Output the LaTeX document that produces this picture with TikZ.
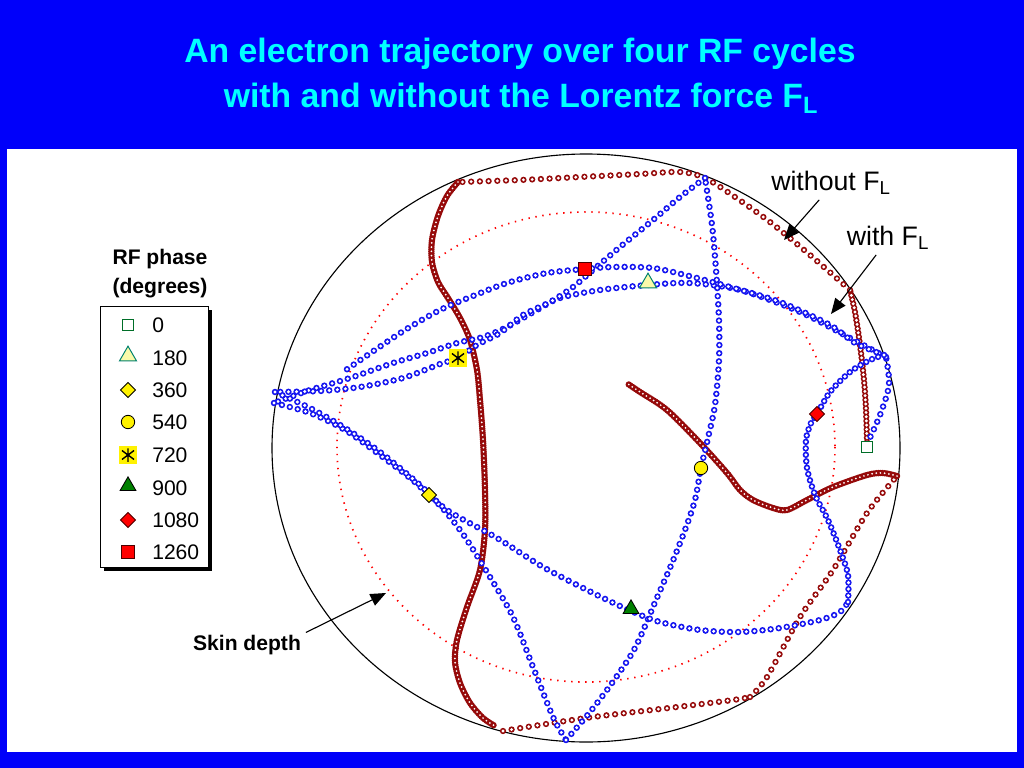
\documentclass[tikz,border=0pt]{standalone}
\usepackage{fontspec}
\setmainfont{Liberation Sans}
\usepackage{xcolor}
\usepackage{tikz}
\usetikzlibrary{shapes.geometric}
\usetikzlibrary{arrows.meta,positioning}

\definecolor{slideblue}{RGB}{0,0,250}
\definecolor{titlecyan}{RGB}{0,255,255}
\definecolor{orbitblue}{RGB}{20,20,240}
\definecolor{orbitred}{RGB}{150,10,10}
\definecolor{keygreen}{RGB}{0,110,40}
\definecolor{keyteal}{RGB}{0,130,110}
\definecolor{paleyellow}{RGB}{250,250,170}

\tikzset{
    blueorbit/.style={
        draw=orbitblue,
        line width=4.6pt,
        line cap=round,
        dash pattern=on 0pt off #1,
        postaction={draw=white, line width=2.4pt, line cap=round, dash pattern=on 0pt off #1}
    },
    blueorbit/.default=5.8pt,
    redorbit/.style={
        draw=orbitred,
        line width=4.5pt,
        line cap=round,
        dash pattern=on 0pt off #1,
        postaction={draw=white, line width=2.3pt, line cap=round, dash pattern=on 0pt off #1}
    },
    redorbit/.default=6.2pt,
    denseorbit/.style={
        draw=orbitred,
        line width=4.6pt,
        line cap=round,
        dash pattern=on 0pt off 1.5pt,
        postaction={draw=white, line width=1.4pt, line cap=round, dash pattern=on 0pt off 3pt}
    },
    pointer/.style={
        -{Triangle[length=11pt,width=9pt]},
        line width=0.8pt
    },
    mkzero/.style={rectangle, draw=keygreen, fill=white, line width=0.6pt,
        minimum size=7.5pt, inner sep=0pt},
    mkhalf/.style={regular polygon, regular polygon sides=3, draw=keyteal,
        fill=paleyellow, line width=0.7pt, minimum size=14pt, inner sep=0pt},
    mkone/.style={diamond, draw=black, fill=yellow, line width=0.6pt,
        minimum size=11pt, inner sep=0pt},
    mkonehalf/.style={circle, draw=black, fill=yellow, line width=0.6pt,
        minimum size=9.5pt, inner sep=0pt},
    mktwo/.style={rectangle, fill=yellow, minimum size=12.5pt, inner sep=0pt,
        path picture={
            \draw[line width=1pt]
                ([yshift=-4.8pt]path picture bounding box.center) -- ++(0,9.6pt)
                ([shift={(-4.3pt,-3.2pt)}]path picture bounding box.center) -- ++(8.6pt,6.4pt)
                ([shift={(-4.3pt,3.2pt)}]path picture bounding box.center) -- ++(8.6pt,-6.4pt);}},
    mktwohalf/.style={regular polygon, regular polygon sides=3, draw=black,
        fill=green!50!black, line width=0.6pt, minimum size=13pt, inner sep=0pt},
    mkthree/.style={diamond, draw=black!70!red, fill=red, line width=0.6pt,
        minimum size=11pt, inner sep=0pt},
    mkthreehalf/.style={rectangle, draw=black!70!red, fill=red, line width=0.6pt,
        minimum size=9pt, inner sep=0pt},
    keytext/.style={anchor=west, font=\fontsize{15}{18}\selectfont, inner sep=0pt}
}

\begin{document}
\begin{tikzpicture}[x=0.025cm,y=-0.025cm]
                \useasboundingbox (0,0) rectangle (1024,768);

                \fill[slideblue] (0,0) rectangle (1024,768);
                \fill[white] (7,149) rectangle (1017,752);

                \node[
                    anchor=base,
                    text=titlecyan,
                    font=\fontsize{24}{28}\selectfont\bfseries
                    ] (titleone) at (520,63) {An electron trajectory over four RF cycles};
                \node[
                    anchor=base,
                    text=titlecyan,
                    font=\fontsize{24}{28}\selectfont\bfseries
                    ] (titletwo) at (521,108) {with and without the Lorentz force F\textsubscript{L}};

                \draw[
                    line width=0.8pt
                    ] (586,448) ellipse [x radius=314, y radius=294];

                \draw[
                    red,
                    line width=1.2pt,
                    dash pattern=on 1pt off 4pt
                    ] (586,447) ellipse [x radius=249, y radius=235];

                \draw[redorbit=3pt] plot[smooth] coordinates {(867,442) (866,410) (864,380) (860,345) (855,312) (850,290)};
                \draw[redorbit] plot[smooth] coordinates {(850,290) (810,255) (770,222) (735,197) (705,178) (680,172) (640,174) (580,177) (520,180) (460,182)};
                \draw[denseorbit] plot[smooth] coordinates {(458,182) (447,196) (438,216) (432,240) (432,262) (438,282) (448,298) (460,318) (470,340) (477,370) (480,400) (483,440) (485,490) (485,530) (480,570) (467,607) (457,640) (455,662) (460,683) (470,703) (483,718) (495,726)};
                \draw[redorbit] plot[smooth] coordinates {(503,731) (527,727) (593,717) (677,707) (733,700) (750,697)};
                \draw[redorbit] plot[smooth] coordinates {(750,697) (767,677) (800,617) (833,570) (867,513) (897,476)};
                \draw[denseorbit] plot[smooth] coordinates {(897,476) (883,473) (867,475) (833,487) (807,500) (787,510) (773,508) (753,500) (740,490) (727,473) (700,443) (667,410) (640,392) (628,384)};

                \draw[blueorbit] plot[smooth] coordinates {(867,444) (880,415) (889,385) (886,357)};
                \draw[blueorbit] plot[smooth] coordinates {(886,357) (850,338) (800,312) (740,290) (690,283) (648,285) (600,290) (560,298) (537,310) (507,327) (483,337) (457,343) (427,353) (393,363) (350,378) (310,390) (274,403)};
                \draw[blueorbit] plot[smooth] coordinates {(274,403) (310,413) (345,430) (380,455) (410,478) (429,495) (445,511) (465,537) (490,577) (513,617) (533,667) (553,717) (566,740)};
                \draw[blueorbit] plot[smooth] coordinates {(566,740) (590,712) (612,683) (635,648) (656,600) (672,563) (685,530) (695,500) (701,468) (708,438) (715,405) (719,360) (719,320) (716,270) (712,225) (705,178)};
                \draw[blueorbit] plot[smooth] coordinates {(705,178) (680,197) (653,220) (620,247) (593,270) (573,287) (550,302) (523,315) (500,333) (477,345) (458,358) (440,364) (403,378) (360,387) (320,391) (275,392)};
                \draw[blueorbit] plot[smooth] coordinates {(275,392) (310,408) (345,428) (380,452) (420,485) (447,510) (497,538) (543,567) (593,593) (631,611) (660,622) (700,630) (740,632) (780,628) (820,620) (840,612) (848,602)};
                \draw[blueorbit=4.6pt] plot[smooth] coordinates {(848,602) (848,575) (840,550) (828,520) (815,495) (807,468) (806,440) (811,423) (817,414) (830,392) (850,372) (870,360) (884,355)};
                \draw[blueorbit] plot[smooth] coordinates {(884,355) (855,343) (830,325) (780,302) (730,287) (693,277) (653,268) (613,267) (585,269) (547,273) (507,283) (473,296) (440,310) (405,330) (375,350) (343,372)};

                \node[mkzero] (m0) at (867,447) {};
                \node[mkhalf] (m180) at (648,283) {};
                \node[mkone] (m360) at (429,495) {};
                \node[mkonehalf] (m540) at (701,468) {};
                \node[mktwo] (m720) at (458,358) {};
                \node[mktwohalf] (m900) at (631,609) {};
                \node[mkthree] (m1080) at (817,414) {};
                \node[mkthreehalf] (m1260) at (585,269) {};

                \node[
                    align=center,
                    font=\fontsize{15}{20.6}\selectfont\bfseries
                    ] (legendtitle) at (160,274) {RF phase\\(degrees)};

                \fill[black] (104,310) rectangle (212,571);
                \draw[
                    line width=0.6pt,
                    fill=white
                    ] (100,306) rectangle (208,567);

                \node[mkzero] (k0) at (128,325) {};
                \node[mkhalf] (k180) at (128,356) {};
                \node[mkone] (k360) at (128,390) {};
                \node[mkonehalf] (k540) at (128,422) {};
                \node[mktwo] (k720) at (128,455) {};
                \node[mktwohalf] (k900) at (128,486) {};
                \node[mkthree] (k1080) at (128,520) {};
                \node[mkthreehalf] (k1260) at (128,552) {};

                \node[keytext] (t0) at (152,325) {0};
                \node[keytext] (t180) at (152,358) {180};
                \node[keytext] (t360) at (152,390) {360};
                \node[keytext] (t540) at (152,422) {540};
                \node[keytext] (t720) at (152,455) {720};
                \node[keytext] (t900) at (152,488) {900};
                \node[keytext] (t1080) at (152,520) {1080};
                \node[keytext] (t1260) at (152,552) {1260};

                \node[
                    font=\fontsize{19}{22}\selectfont
                    ] (withoutlbl) at (831,183) {without F\textsubscript{L}};
                \node[
                    font=\fontsize{19}{22}\selectfont
                    ] (withlbl) at (888,238) {with F\textsubscript{L}};
                \node[
                    font=\fontsize{15}{18}\selectfont\bfseries
                    ] (skinlbl) at (247,645) {Skin depth};

                \coordinate (withouttip) at (784,240);
                \coordinate (withtip) at (831,314);
                \coordinate (skintip) at (386,593);

                \draw[pointer] (withoutlbl.235) to (withouttip);
                \draw[pointer] (withlbl.235) to (withtip);
                \draw[pointer] (skinlbl.12) to (skintip);

            \end{tikzpicture}
\end{document}
